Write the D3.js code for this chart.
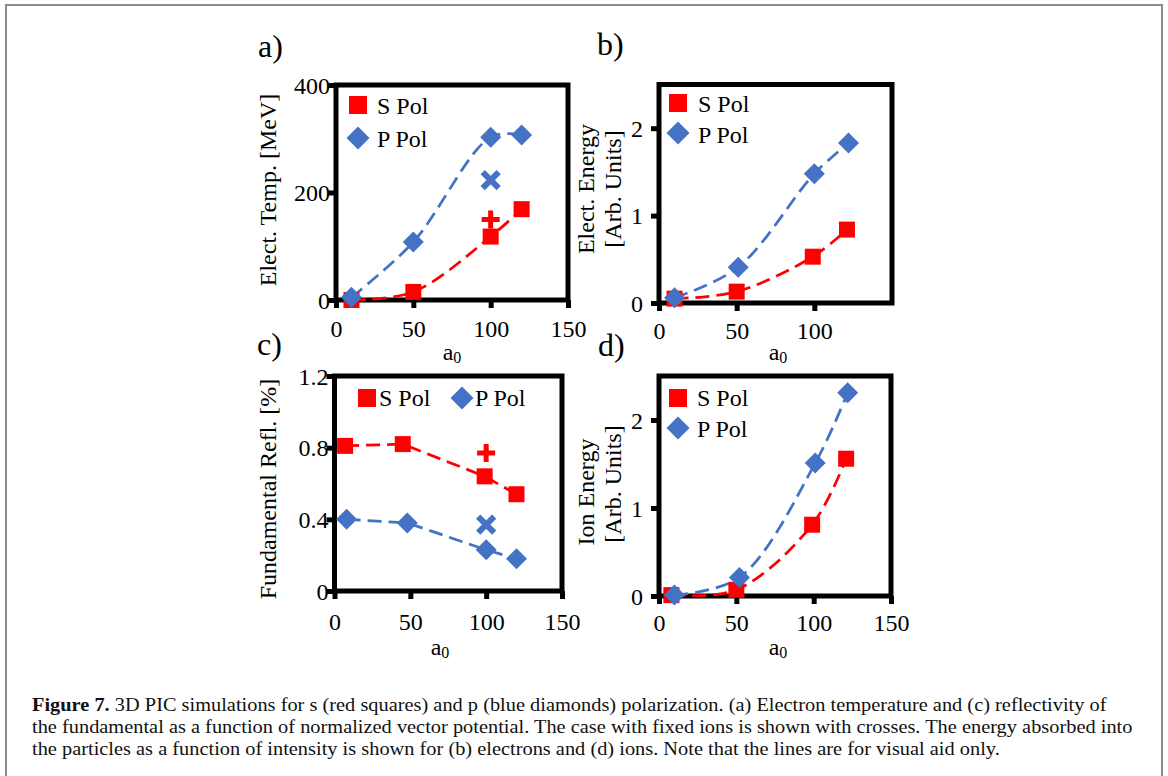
<!DOCTYPE html>
<html lang="en">
<head>
<meta charset="UTF-8">
<title>Figure 7</title>
<style>
  body { margin: 0; background: #fff; }
  svg { display: block; font-family: "Liberation Serif", "Times New Roman", serif; }
</style>
</head>
<body>
<svg id="fig" width="1168" height="776"></svg>
<script src="https://d3js.org/d3.v7.min.js"></script>
<script>
// ---- values ----
// (a) electron temperature [MeV]
var aSx = [10, 50, 100, 120], aSy = [0, 15, 118, 169];
var aPx = [10, 50, 100, 120], aPy = [5, 108, 303, 307];
var aCrossS = [100, 150], aCrossP = [100, 223];
// (b) electron energy [arb. units]
var bSx = [10, 50, 99, 121], bSy = [0.05, 0.13, 0.53, 0.84];
var bPx = [10, 51, 100, 122], bPy = [0.06, 0.41, 1.48, 1.83];
// (c) fundamental reflectivity [%]
var cSx = [7, 45, 99, 120], cSy = [0.81, 0.82, 0.64, 0.54];
var cPx = [8, 48, 100, 120], cPy = [0.40, 0.38, 0.23, 0.18];
var cCrossS = [100, 0.77], cCrossP = [100, 0.37];
// (d) ion energy [arb. units]
var dSx = [8, 50, 99, 121], dSy = [0.01, 0.07, 0.81, 1.56];
var dPx = [10, 52, 101, 122], dPy = [0.01, 0.21, 1.51, 2.31];

var xTicksFull = [0, 50, 100, 150];
var xTicksB = [0, 50, 100];
var aYTicks = [0, 200, 400];
var bYTicks = [0, 1, 2];
var cYTicks = [0, 0.4, 0.8, 1.2];
var dYTicks = [0, 1, 2];

var captionLines = [
  [["Figure 7.", true], [" 3D PIC simulations for s (red squares) and p (blue diamonds) polarization. (a) Electron temperature and (c) reflectivity of", false]],
  [["the fundamental as a function of normalized vector potential. The case with fixed ions is shown with crosses. The energy absorbed into", false]],
  [["the particles as a function of intensity is shown for (b) electrons and (d) ions. Note that the lines are for visual aid only.", false]]
];

var RED = "#ff0000", BLUE = "#4472c4";

function zip(xs, ys) { return xs.map(function (v, i) { return [v, ys[i]]; }); }

var svg = d3.select("#fig");

// outer grey frame (open at the bottom)
svg.append("path")
  .attr("d", "M6,776 V5 H1162 V776")
  .attr("fill", "none").attr("stroke", "#8c8c8c").attr("stroke-width", 2);

var panels = [
  { label: "a)", lx: 258, ly: 57, left: 336, right: 568, top: 85, bottom: 300,
    yMax: 400, yTicks: aYTicks, xTicks: xTicksFull, yGap: 6, xLabY: 37,
    fmt: d3.format("d"), curve: d3.curveCatmullRom.alpha(0.5),
    S: zip(aSx, aSy), P: zip(aPx, aPy), crossS: aCrossS, crossP: aCrossP,
    ytitle: ["Elect. Temp. [MeV]"], ytx: [268], yty: [190], xtx: 452, xty: 360,
    leg: [[358, 105, 377, 114], [358, 138, 377, 147]] },
  { label: "b)", lx: 597, ly: 55, left: 659, right: 892, top: 84.5, bottom: 303,
    yMax: 2.5, yTicks: bYTicks, xTicks: xTicksB, yGap: 16, xLabY: 36,
    fmt: d3.format("d"), curve: d3.curveCatmullRom.alpha(0.5),
    S: zip(bSx, bSy), P: zip(bPx, bPy),
    ytitle: ["Elect. Energy", "[Arb. Units]"], ytx: [586, 613], yty: [189, 189], xtx: 778, xty: 360,
    leg: [[678, 103, 698, 112], [678, 133, 698, 143]] },
  { label: "c)", lx: 257, ly: 355, left: 334.5, right: 562, top: 376, bottom: 591,
    yMax: 1.2, yTicks: cYTicks, xTicks: xTicksFull, yGap: 6, xLabY: 39,
    fmt: function (d) { return d === 0 ? "0" : d.toFixed(1); }, curve: d3.curveLinear,
    S: zip(cSx, cSy), P: zip(cPx, cPy), crossS: cCrossS, crossP: cCrossP,
    ytitle: ["Fundamental Refl. [%]"], ytx: [268], yty: [489], xtx: 440, xty: 655,
    leg: [[367, 398, 379, 406], [462, 398, 475, 406]] },
  { label: "d)", lx: 598, ly: 356, left: 659, right: 891, top: 376, bottom: 596,
    yMax: 2.5, yTicks: dYTicks, xTicks: xTicksFull, yGap: 16, xLabY: 35,
    fmt: d3.format("d"), curve: d3.curveCatmullRom.alpha(0.5),
    S: zip(dSx, dSy), P: zip(dPx, dPy),
    ytitle: ["Ion Energy", "[Arb. Units]"], ytx: [586, 613], yty: [492, 484], xtx: 778, xty: 655,
    leg: [[678, 398, 697, 406], [678, 428, 697, 437]] }
];

function squarePath(s) { var h = s / 2; return "M" + -h + "," + -h + "H" + h + "V" + h + "H" + -h + "Z"; }
function diamondPath(r) { return "M0," + -r + "L" + r + ",0L0," + r + "L" + -r + ",0Z"; }

function drawPanel(p) {
  var g = svg.append("g");
  var x = d3.scaleLinear().domain([0, 150]).range([p.left, p.right]);
  var y = d3.scaleLinear().domain([0, p.yMax]).range([p.bottom, p.top]);

  // axes: ticks only, the frame is drawn as a rect
  var ya = g.append("g").attr("transform", "translate(" + p.left + ",0)")
    .call(d3.axisLeft(y).tickValues(p.yTicks).tickSize(8).tickFormat(p.fmt));
  var xa = g.append("g").attr("transform", "translate(0," + p.bottom + ")")
    .call(d3.axisBottom(x).tickValues(p.xTicks).tickSize(8).tickFormat(d3.format("d")));
  [ya, xa].forEach(function (ax) {
    ax.select(".domain").remove();
    ax.attr("font-family", null).attr("font-size", 24);
    ax.selectAll(".tick line").attr("stroke", "#000").attr("stroke-width", 5);
    ax.selectAll(".tick text").attr("fill", "#000");
  });
  ya.selectAll(".tick text").attr("x", -p.yGap).attr("dy", "0.34em");
  xa.selectAll(".tick text").attr("y", p.xLabY).attr("dy", 0);

  g.append("rect")
    .attr("x", p.left).attr("y", p.top)
    .attr("width", p.right - p.left).attr("height", p.bottom - p.top)
    .attr("fill", "none").attr("stroke", "#000").attr("stroke-width", 5);

  // dashed guide lines
  var line = d3.line().x(function (d) { return x(d[0]); }).y(function (d) { return y(d[1]); }).curve(p.curve);
  [[p.S, RED], [p.P, BLUE]].forEach(function (s) {
    g.append("path").attr("d", line(s[0]))
      .attr("fill", "none").attr("stroke", s[1]).attr("stroke-width", 2.75)
      .attr("stroke-dasharray", "14,7");
  });

  // markers
  g.selectAll(".sq").data(p.S).enter().append("path")
    .attr("d", squarePath(16)).attr("fill", RED)
    .attr("transform", function (d) { return "translate(" + x(d[0]) + "," + y(d[1]) + ")"; });
  g.selectAll(".dm").data(p.P).enter().append("path")
    .attr("d", diamondPath(10.5)).attr("fill", BLUE)
    .attr("transform", function (d) { return "translate(" + x(d[0]) + "," + y(d[1]) + ")"; });

  // fixed-ion cases: crosses
  if (p.crossS) {
    g.append("path").attr("d", "M-9,0H9M0,-9V9")
      .attr("stroke", RED).attr("stroke-width", 5).attr("fill", "none")
      .attr("transform", "translate(" + x(p.crossS[0]) + "," + y(p.crossS[1]) + ")");
    g.append("path").attr("d", "M-8,-8L8,8M-8,8L8,-8")
      .attr("stroke", BLUE).attr("stroke-width", 6).attr("fill", "none")
      .attr("transform", "translate(" + x(p.crossP[0]) + "," + y(p.crossP[1]) + ")");
  }

  // legend
  g.append("path").attr("d", squarePath(18)).attr("fill", RED)
    .attr("transform", "translate(" + p.leg[0][0] + "," + p.leg[0][1] + ")");
  g.append("text").attr("x", p.leg[0][2]).attr("y", p.leg[0][3]).attr("font-size", 24).text("S Pol");
  g.append("path").attr("d", diamondPath(11.5)).attr("fill", BLUE)
    .attr("transform", "translate(" + p.leg[1][0] + "," + p.leg[1][1] + ")");
  g.append("text").attr("x", p.leg[1][2]).attr("y", p.leg[1][3]).attr("font-size", 24).text("P Pol");

  // titles
  p.ytitle.forEach(function (t, i) {
    g.append("text").attr("x", p.ytx[i]).attr("y", p.yty[i])
      .attr("transform", "rotate(-90," + p.ytx[i] + "," + p.yty[i] + ")")
      .attr("text-anchor", "middle").attr("dominant-baseline", "central")
      .attr("font-size", 24).text(t);
  });
  var xt = g.append("text").attr("x", p.xtx).attr("y", p.xty).attr("text-anchor", "middle").attr("font-size", 24);
  xt.append("tspan").text("a");
  xt.append("tspan").attr("font-size", 16).attr("dy", 3).text("0");

  svg.append("text").attr("x", p.lx).attr("y", p.ly).attr("font-size", 32).text(p.label);
}

panels.forEach(drawPanel);

// caption: first two lines are justified to the original widths,
// the last one keeps the squeeze of the first line
var capBase = [711, 733, 755], capWidth = [1075, 1101, null];
var squeeze = 1;
captionLines.forEach(function (parts, i) {
  var t = svg.append("text").attr("x", 0).attr("y", 0).attr("font-size", 18).attr("fill", "#111");
  parts.forEach(function (pt) {
    t.append("tspan").attr("font-weight", pt[1] ? "bold" : "normal").text(pt[0]);
  });
  var w = t.node().getComputedTextLength();
  var sx = capWidth[i] ? capWidth[i] / w : squeeze;
  if (i === 0) squeeze = sx;
  t.attr("transform", "translate(32," + capBase[i] + ") scale(" + sx + ",1)");
});
</script>
</body>
</html>
